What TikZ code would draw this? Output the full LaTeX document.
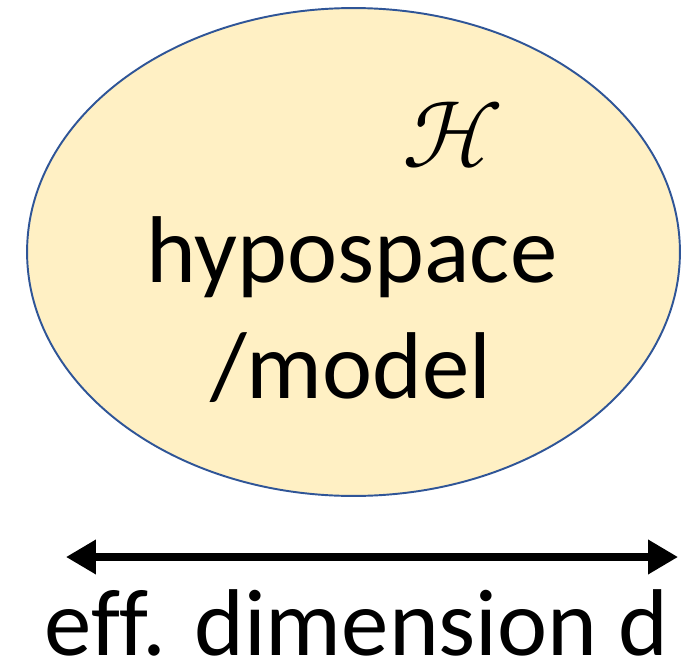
\documentclass[tikz,border=0pt]{standalone}
\usepackage{fontspec}
\usepackage{unicode-math}
\setmainfont{Carlito}[Ligatures=NoCommon]
\setmathfont{Latin Modern Math}
\usetikzlibrary{positioning,arrows.meta,shapes.geometric}
\definecolor{hypofill}{HTML}{FFF0C4}
\definecolor{hypoline}{HTML}{2F5597}
\tikzset{
  hypo/.style={ellipse,draw=hypoline,line width=1.1pt,fill=hypofill,
              inner sep=0pt,minimum width=13.06cm,minimum height=9.76cm},
  bigtext/.style={font=\fontsize{54}{64}\selectfont,inner sep=0pt,anchor=base},
  dimarrow/.style={{Triangle[length=0.6cm,width=0.66cm]}-{Triangle[length=0.6cm,width=0.66cm]},
                  line width=4pt,black},
}
\begin{document}
\begin{tikzpicture}[x=0.02cm,y=-0.02cm]
  \useasboundingbox (0,0) rectangle (694,663);
  \node[hypo] (hyp) at (353.5,252) {};
  \node[font=\fontsize{54}{60}\selectfont,inner sep=0pt] (calH) at (453,135) {$\mathscr{H}$};
  \node[bigtext] (hyptxt) at (352,282) {hypospace};
  \node[bigtext] (modtxt) at (351,398) {/model};
  % dimension arrow under the hypothesis space
  \coordinate (dimL) at (66,557);
  \coordinate (dimR) at (678,557);
  \draw[dimarrow] (dimL) -- (dimR);
  \node[bigtext] (dimtxt) at (357,655) {eff. dimension d};
\end{tikzpicture}
\end{document}
